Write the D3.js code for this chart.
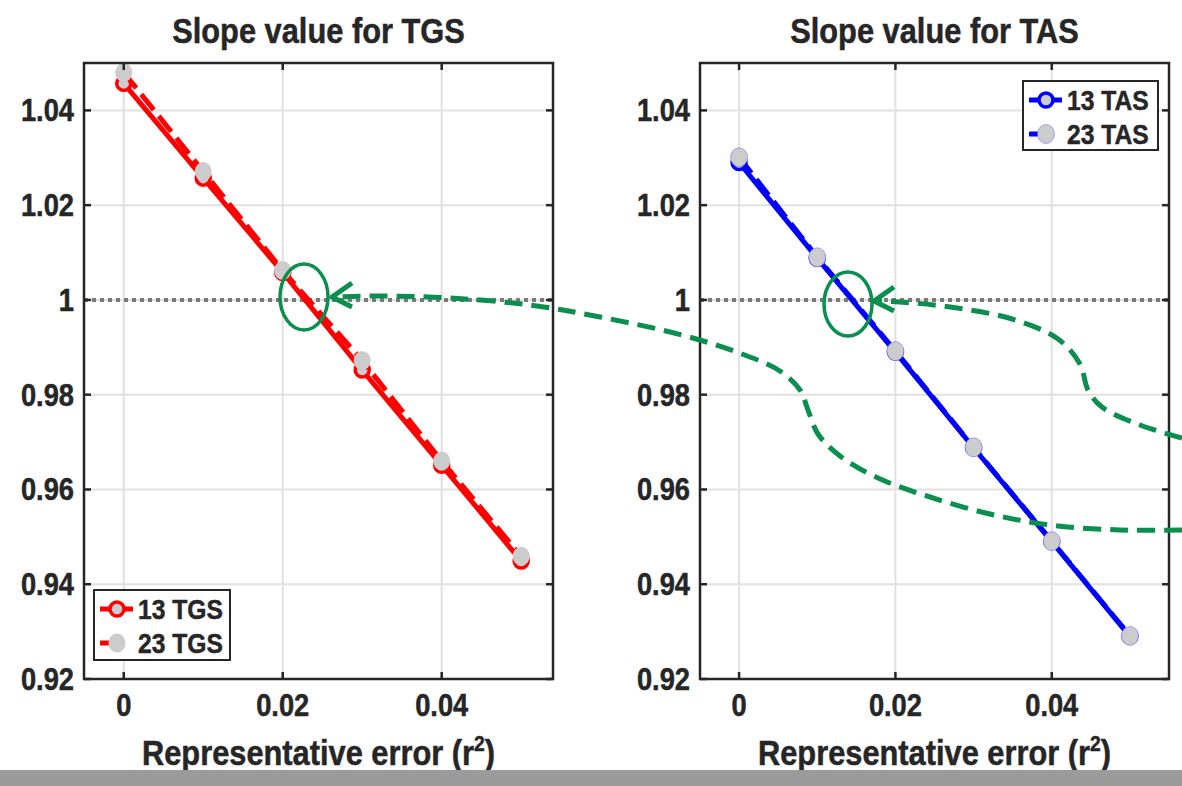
<!DOCTYPE html>
<html><head><meta charset="utf-8">
<script src="https://cdn.jsdelivr.net/npm/d3@7"></script>
<style>html,body{margin:0;padding:0;background:#fff;overflow:hidden}</style>
</head><body>
<svg id="chart" width="1182" height="786"></svg>
<script>
// ---- data ----
const xValues = [0, 0.01, 0.02, 0.03, 0.04, 0.05];
const tgs13 = [1.0457, 1.0257, 1.0058, 0.9852, 0.9651, 0.9449];
const tgs23 = [1.0480, 1.0271, 1.0062, 0.9872, 0.9660, 0.9459];
const tas13 = [1.0290, 1.0088, 0.9890, 0.9688, 0.9490, 0.9290];
const tas23 = [1.0301, 1.0090, 0.9892, 0.9689, 0.9491, 0.9291];
const xTicks = [0, 0.02, 0.04];
const xTickLabels = ["0", "0.02", "0.04"];
const yTicks = [0.92, 0.94, 0.96, 0.98, 1.00, 1.02, 1.04];
const yTickLabels = ["0.92", "0.94", "0.96", "0.98", "1", "1.02", "1.04"];
const titles = ["Slope value for TGS", "Slope value for TAS"];
const legendLabels = [["13 TGS", "23 TGS"], ["13 TAS", "23 TAS"]];
const refLine = 1.0;

const svg = d3.select("#chart");
const FONT = "'Liberation Sans', Arial, Helvetica, sans-serif";
const SX = 0.88;

function txt(g, x, y, s, size, anchor) {
  const t = g.append("text")
    .attr("transform", `translate(${x},${y}) scale(${SX},1)`)
    .attr("font-family", FONT).attr("font-weight", "bold")
    .attr("font-size", size).attr("fill", "#262626")
    .attr("stroke", "#262626").attr("stroke-width", 0.5)
    .attr("text-anchor", anchor || "start");
  if (s !== null) t.text(s);
  return t;
}

const panels = [
  {x0: 84, x1: 553, xdom: [-0.005, 0.054], color: "#ff0000", s13: tgs13, s23: tgs23,
   legend: {x: 94, y: 590, w: 136, h: 70}},
  {x0: 700, x1: 1169, xdom: [-0.005, 0.055], color: "#0000ff", s13: tas13, s23: tas23,
   legend: {x: 1023, y: 81, w: 135, h: 69}}
];
const yTop = 63, yBot = 679;

panels.forEach((p, i) => {
  const g = svg.append("g");
  const x = d3.scaleLinear().domain(p.xdom).range([p.x0, p.x1]);
  const y = d3.scaleLinear().domain([0.92, 1.05]).range([yBot, yTop]);

  // grid
  g.selectAll(".gx").data(xTicks).enter().append("line")
    .attr("x1", d => x(d)).attr("x2", d => x(d)).attr("y1", yTop).attr("y2", yBot)
    .attr("stroke", "#e1e1e1").attr("stroke-width", 2);
  g.selectAll(".gy").data(yTicks).enter().append("line")
    .attr("x1", p.x0).attr("x2", p.x1).attr("y1", d => y(d)).attr("y2", d => y(d))
    .attr("stroke", "#e1e1e1").attr("stroke-width", 2);

  // reference line
  g.append("line").attr("x1", p.x0).attr("x2", p.x1)
    .attr("y1", y(refLine)).attr("y2", y(refLine))
    .attr("stroke", "#7a7a7a").attr("stroke-width", 4).attr("stroke-dasharray", "4,4");

  const line = d3.line().x((d, j) => x(xValues[j])).y(d => y(d));
  // 13 series solid
  g.append("path").datum(p.s13).attr("d", line).attr("fill", "none")
    .attr("stroke", p.color).attr("stroke-width", 5);
  g.selectAll(".m13").data(p.s13).enter().append("circle")
    .attr("cx", (d, j) => x(xValues[j])).attr("cy", d => y(d)).attr("r", 7)
    .attr("fill", "#cccccc").attr("stroke", p.color).attr("stroke-width", 3.5);
  // 23 series dashed
  g.append("path").datum(p.s23).attr("d", line).attr("fill", "none")
    .attr("stroke", p.color).attr("stroke-width", 5).attr("stroke-dasharray", "20,8");
  g.selectAll(".m23").data(p.s23).enter().append("ellipse")
    .attr("cx", (d, j) => x(xValues[j])).attr("cy", d => y(d)).attr("rx", 8.5).attr("ry", 9.5)
    .attr("fill", "#cccccc").attr("stroke", i === 1 ? "#7777ff" : "none").attr("stroke-width", 0.6);

  // axes box
  g.append("rect").attr("x", p.x0).attr("y", yTop).attr("width", p.x1 - p.x0).attr("height", yBot - yTop)
    .attr("fill", "none").attr("stroke", "#262626").attr("stroke-width", 2.5);
  // inner ticks
  yTicks.forEach(t => {
    g.append("line").attr("x1", p.x0).attr("x2", p.x0 + 7).attr("y1", y(t)).attr("y2", y(t))
      .attr("stroke", "#262626").attr("stroke-width", 2.5);
    g.append("line").attr("x1", p.x1 - 7).attr("x2", p.x1).attr("y1", y(t)).attr("y2", y(t))
      .attr("stroke", "#262626").attr("stroke-width", 2.5);
  });
  xTicks.forEach(t => {
    g.append("line").attr("x1", x(t)).attr("x2", x(t)).attr("y1", yBot).attr("y2", yBot - 7)
      .attr("stroke", "#262626").attr("stroke-width", 2.5);
    g.append("line").attr("x1", x(t)).attr("x2", x(t)).attr("y1", yTop).attr("y2", yTop + 7)
      .attr("stroke", "#262626").attr("stroke-width", 2.5);
  });
  // tick labels
  yTicks.forEach((t, k) => txt(g, p.x0 - 10, y(t) + 11, yTickLabels[k], 31, "end"));
  xTicks.forEach((t, k) => txt(g, x(t), 716, xTickLabels[k], 31, "middle"));

  // title
  txt(g, (p.x0 + p.x1) / 2, 43, titles[i], 35, "middle");
  // x label
  const xl = txt(g, (p.x0 + p.x1) / 2, 765, null, 35, "middle");
  xl.append("tspan").text("Representative error (r");
  xl.append("tspan").attr("font-size", 22).attr("dy", -14).text("2");
  xl.append("tspan").attr("dy", 14).text(")");

  // legend
  const L = p.legend;
  const lg = g.append("g");
  lg.append("rect").attr("x", L.x).attr("y", L.y).attr("width", L.w).attr("height", L.h)
    .attr("fill", "#fff").attr("stroke", "#262626").attr("stroke-width", 2);
  const r1 = L.y + 19, r2 = L.y + 53;
  const lx0 = L.x + 6, lx1 = L.x + 39, lm = L.x + 23;
  lg.append("line").attr("x1", lx0).attr("x2", lx1).attr("y1", r1).attr("y2", r1)
    .attr("stroke", p.color).attr("stroke-width", 5);
  lg.append("circle").attr("cx", lm).attr("cy", r1).attr("r", 7)
    .attr("fill", "#cccccc").attr("stroke", p.color).attr("stroke-width", 3.5);
  lg.append("line").attr("x1", lx0).attr("x2", lx0 + 9).attr("y1", r2).attr("y2", r2)
    .attr("stroke", p.color).attr("stroke-width", 5);
  lg.append("ellipse").attr("cx", lm).attr("cy", r2).attr("rx", 8.5).attr("ry", 9.5)
    .attr("fill", "#cccccc").attr("stroke", i === 1 ? "#7777ff" : "none").attr("stroke-width", 0.6);
  txt(lg, L.x + 44, r1 + 10, legendLabels[i][0], 28, "start");
  txt(lg, L.x + 44, r2 + 10, legendLabels[i][1], 28, "start");
});

// ---- annotation overlay (green ellipses and dashed arrows) ----
const GREEN = "#0a8f4e";
const ann = svg.append("g");
const curve = d3.line().curve(d3.curveCatmullRom.alpha(0.5));
const arrow1 = [[1182,438],[1140,425],[1102,407],[1088,390],[1080,364],[1058,339],[1012,319],[950,307],[900,302],[874,301]];
const arrow2 = [[1182,530],[1120,530],[1050,525],[990,514],[930,497],[878,478],[840,456],[818,434],[808,410],[800,390],[780,371],[742,354],[682,335],[600,317],[530,305],[450,298],[380,296],[332,297]];
[arrow1, arrow2].forEach(a => {
  ann.append("path").attr("d", curve(a)).attr("fill", "none")
    .attr("stroke", GREEN).attr("stroke-width", 5).attr("stroke-dasharray", "18,9");
  const tip = a[a.length - 1];
  ann.append("path").attr("d", `M${tip[0] + 20},${tip[1] - 14} L${tip[0]},${tip[1]} L${tip[0] + 20},${tip[1] + 10}`)
    .attr("fill", "none").attr("stroke", GREEN).attr("stroke-width", 5).attr("stroke-linejoin", "round");
});
ann.append("ellipse").attr("cx", 304).attr("cy", 297).attr("rx", 24).attr("ry", 33)
  .attr("fill", "none").attr("stroke", GREEN).attr("stroke-width", 3.5);
ann.append("ellipse").attr("cx", 848).attr("cy", 304).attr("rx", 24).attr("ry", 32)
  .attr("fill", "none").attr("stroke", GREEN).attr("stroke-width", 3.5);

// bottom gray band
svg.append("rect").attr("x", 0).attr("y", 770).attr("width", 1182).attr("height", 16).attr("fill", "#9b9b9b");
</script>
</body></html>
